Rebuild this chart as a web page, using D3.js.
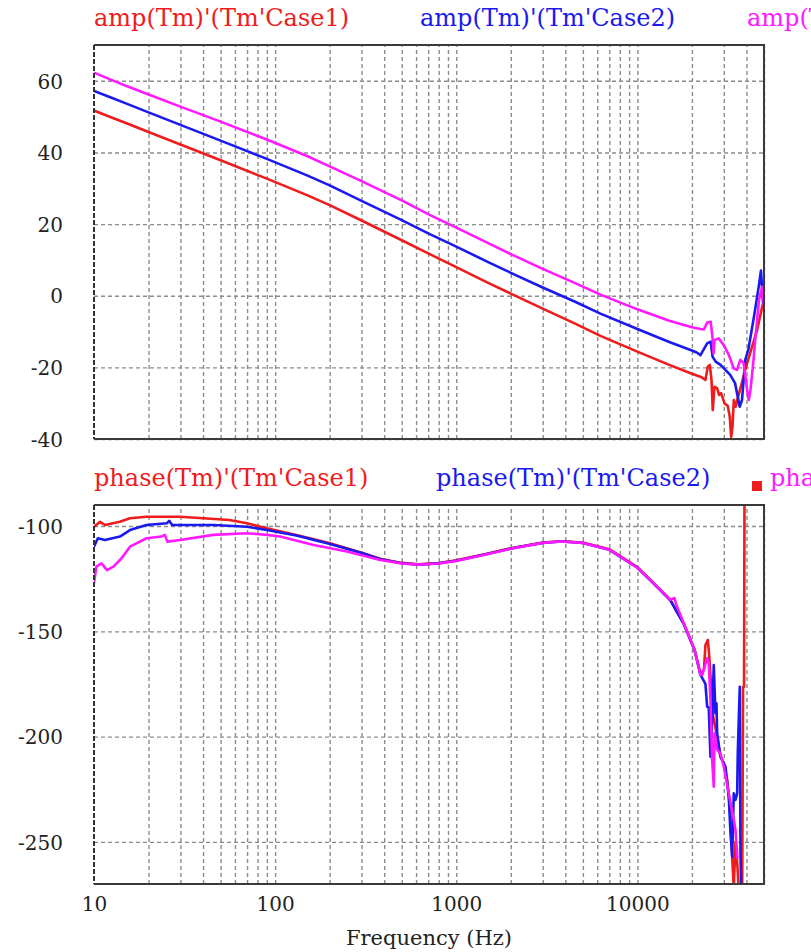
<!DOCTYPE html>
<html>
<head>
<meta charset="utf-8">
<script src="https://cdn.jsdelivr.net/npm/d3@7"></script>
<style>
  body { margin: 0; background: #fff; }
  svg { display: block; font-family: "DejaVu Serif", serif; }
  .grid line { stroke: #8c8c8c; stroke-width: 1.4; stroke-dasharray: 4,3; }
  .grid path { display: none; }
  .lbl { font-family: "DejaVu Serif", serif; }
  .lbl text { fill: #222; font-size: 20px; }
  .lbl path, .lbl line { display: none; }
</style>
</head>
<body>
<script>
  // ---- data: [frequency Hz, value] ----
  const seriesNames = ['Tm\'Case1', 'Tm\'Case2', 'Tm\'Case3']
  const colors = ['#ee1c1c', '#1a1aee', '#ff19ff']

  const ampCase1 = [[10,51.7],[12,50.1],[15,48.2],[20,45.7],[30,42.2],[50,37.8],[90,32.7],[150,28.1],[200,25.3],[300,21.0],[500,15.5],[700,11.8],[1000,8.0],[1500,3.6],[2000,0.6],[3000,-3.6],[4500,-7.7],[6250,-11.2],[10000,-15.6],[15000,-19.3],[20000,-21.8],[22290,-22.6],[23750,-23.5],[24470,-19.8],[25100,-19.3],[25650,-23.5],[26070,-31.9],[26640,-25.4],[27540,-25.8],[28250,-27.7],[28970,-27.2],[30250,-30.0],[31540,-30.8],[32360,-33.8],[32940,-39.4],[33500,-36.6],[34050,-29.1],[34920,-31.0],[35820,-28.6],[40360,-18.8],[45800,-9.6],[48900,-3.0],[50000,-1.2]]
  const ampCase2 = [[10,57.2],[12,55.6],[15,53.7],[20,51.2],[30,47.7],[50,43.3],[90,38.2],[150,33.6],[200,30.8],[300,26.5],[500,21.1],[700,17.4],[1000,13.7],[1500,9.4],[2000,6.4],[3000,2.3],[4500,-1.6],[6250,-5.0],[10000,-9.3],[15000,-12.9],[20000,-15.3],[21380,-15.9],[22290,-16.6],[24270,-13.3],[25400,-12.8],[26000,-17.0],[27050,-18.4],[28750,-19.3],[30600,-20.7],[32540,-22.1],[34600,-24.4],[35800,-28.2],[36700,-31.0],[37800,-29.1],[38600,-23.5],[39400,-17.9],[41000,-15.0],[44300,-5.0],[46900,3.0],[48100,7.0],[49400,-2.0],[50000,2.0]]
  const ampCase3 = [[10,62.3],[12,60.6],[15,58.6],[20,56.2],[30,52.8],[50,48.6],[90,43.6],[150,39.0],[200,36.1],[300,32.0],[500,26.6],[700,22.8],[1000,19.0],[1500,14.7],[2000,11.6],[3000,7.5],[4500,3.6],[6250,0.3],[10000,-3.8],[15000,-7.0],[20000,-8.8],[22290,-9.3],[23300,-9.4],[24270,-7.5],[25400,-7.3],[26000,-11.9],[26330,-16.1],[26640,-12.4],[28100,-11.9],[29990,-13.8],[31960,-16.5],[34050,-20.3],[35500,-20.7],[37000,-17.9],[38600,-18.8],[40360,-26.3],[41200,-29.1],[42100,-26.3],[43600,-18.8],[44900,-11.4],[46900,-1.2],[48900,2.5],[50000,-3.0]]

  const phaseCase1 = [[10,-100.3],[10.8,-98],[11.5,-99.5],[13.9,-98],[15.8,-96.3],[19.5,-95.6],[29.9,-95.6],[40,-96.3],[56,-97.1],[70,-98.7],[90,-101.1],[131,-104.2],[201,-108.2],[307,-112.9],[380,-115.5],[500,-117.5],[620,-118.2],[800,-117.6],[1000,-116.3],[1500,-113],[2000,-110.5],[3000,-107.8],[3800,-107.2],[5000,-107.8],[7000,-111],[10000,-119.5],[11800,-125.6],[15200,-135.1],[18000,-146.2],[20700,-158.9],[22300,-170],[23300,-168.3],[23750,-156.5],[24470,-154.1],[24900,-161.2],[26150,-190],[27540,-200],[28750,-209.5],[29990,-212.7],[31310,-220.6],[32650,-236.4],[33370,-257],[34040,-272],[34790,-250],[35700,-262],[36200,-272],[37900,-272],[38320,-176.3],[38800,-176.3],[39020,-85]]
  const phaseCase2 = [[10,-109.8],[10.5,-105.8],[11.5,-106.6],[13.9,-105],[15.8,-101.9],[19.5,-99.5],[25.2,-98.7],[26,-97.5],[27,-99.5],[45.5,-99.5],[70,-100.3],[90,-101.9],[131,-104.5],[201,-108.5],[307,-113],[380,-115.8],[500,-117.7],[620,-118.3],[800,-117.7],[1000,-116.5],[1500,-113.2],[2000,-110.7],[3000,-108],[3800,-107.3],[5000,-108],[7000,-111.3],[10000,-119.8],[11800,-125.8],[15200,-135.3],[18000,-146.4],[20700,-159],[22300,-170.7],[23750,-175],[24270,-185.8],[24770,-186],[25320,-209.5],[25860,-192.1],[26400,-166],[26970,-188.9],[27330,-184.2],[27560,-198.4],[28750,-209.5],[30640,-214.3],[31950,-228.5],[32650,-245.9],[33370,-257],[34040,-226.9],[34790,-230.1],[35550,-226.9],[35820,-207.9],[36750,-176.3],[37080,-255.4],[37410,-272]]
  const phaseCase3 = [[10,-127.2],[10.3,-119.3],[11,-117.7],[11.8,-120.9],[12.8,-119.3],[14.2,-115.3],[15.8,-109.8],[19.5,-105.8],[23.6,-105],[24.6,-104.2],[25.4,-107.4],[29.9,-106.6],[45.5,-104.2],[70,-103.4],[90,-104.2],[106.6,-105],[163,-109],[249,-112.1],[380,-116.1],[500,-117.8],[620,-118.3],[800,-117.8],[1000,-116.6],[1500,-113.3],[2000,-110.8],[3000,-108],[3800,-107.3],[5000,-108],[7000,-111.2],[10000,-119.8],[11800,-125.6],[15200,-135],[16000,-134.2],[16500,-138],[18000,-146],[20700,-158.9],[22300,-170.7],[22800,-170.7],[24270,-162.8],[24770,-165],[25320,-182.6],[25860,-211.1],[26400,-223.8],[26640,-198.4],[27560,-206.3],[28750,-208],[29990,-214.3],[31950,-226.9],[34040,-239.6],[34790,-244.3],[35700,-258]]

  const ampTicks = [60, 40, 20, 0, -20, -40]
  const phaseTicks = [-100, -150, -200, -250]
  const freqTicks = [10, 100, 1000, 10000]

  // ---- layout ----
  const W = 811, H = 952
  const left = 94, right = 764
  const svg = d3.select('body').append('svg').attr('width', W).attr('height', H)

  const x = d3.scaleLog().domain([10, 50000]).range([left, right])
  const minorTicks = []
  ;[10, 100, 1000, 10000].forEach(d => { for (let k = 1; k < 10; k++) if (d * k <= 50000 && d * k > 10) minorTicks.push(d * k) })

  function panel (cfg) {
    let y = d3.scaleLinear().domain(cfg.domain).range([cfg.bottom, cfg.top])
    let h = cfg.bottom - cfg.top
    let g = svg.append('g')

    // grid
    g.append('g').attr('class', 'grid')
      .attr('transform', `translate(0,${cfg.bottom})`)
      .call(d3.axisBottom(x).tickValues(minorTicks).tickSize(-h).tickFormat(''))
    g.append('g').attr('class', 'grid')
      .attr('transform', `translate(${left},0)`)
      .call(d3.axisLeft(y).tickValues(cfg.ticks).tickSize(-(right - left)).tickFormat(''))

    // y labels
    g.append('g').attr('class', 'lbl')
      .attr('transform', `translate(${left - 31},0)`)
      .call(d3.axisLeft(y).tickValues(cfg.ticks).tickSize(0).tickPadding(0).tickFormat(d => String(d)))
      .selectAll('text').attr('dy', '0.36em')

    // curves
    let clipId = 'clip' + cfg.id
    svg.append('clipPath').attr('id', clipId).append('rect')
      .attr('x', left).attr('y', cfg.top).attr('width', right - left).attr('height', h)
    let line = d3.line().x(d => x(d[0])).y(d => y(d[1]))
    g.append('g').attr('clip-path', `url(#${clipId})`)
      .selectAll('path').data(cfg.series).enter()
      .append('path')
      .attr('d', d => line(d))
      .attr('fill', 'none')
      .attr('stroke', (d, i) => colors[i])
      .attr('stroke-width', 2.6)
      .attr('stroke-linejoin', 'round')

    // frame
    g.append('path')
      .attr('d', `M${left},${cfg.top}H${right}V${cfg.bottom}H${left}`)
      .attr('fill', 'none').attr('stroke', '#3a3a3a').attr('stroke-width', 2)
    g.append('line')
      .attr('x1', left).attr('x2', left).attr('y1', cfg.top).attr('y2', cfg.bottom)
      .attr('stroke', '#333').attr('stroke-width', 2).attr('stroke-dasharray', '5,2')

    // titles
    cfg.titles.forEach((t, i) => {
      svg.append('text')
        .attr('x', t[0]).attr('y', cfg.titleY)
        .attr('fill', colors[i]).style('font-size', '24px')
        .text(t[1])
    })
    return y
  }

  panel({
    id: 'amp', top: 45, bottom: 439, domain: [-40, 70], ticks: ampTicks,
    series: [ampCase1, ampCase2, ampCase3], titleY: 26,
    titles: [[94, 'amp(Tm)\'(' + seriesNames[0] + ')'], [420, 'amp(Tm)\'(' + seriesNames[1] + ')'], [747, 'amp(Tm)\'(' + seriesNames[2] + ')']]
  })
  panel({
    id: 'ph', top: 505, bottom: 884, domain: [-270, -90], ticks: phaseTicks,
    series: [phaseCase1, phaseCase2, phaseCase3], titleY: 486,
    titles: [[94, 'phase(Tm)\'(' + seriesNames[0] + ')'], [436, 'phase(Tm)\'(' + seriesNames[1] + ')'], [770, 'phase(Tm)\'(' + seriesNames[2] + ')']]
  })
  // small marker in front of the clipped third phase title
  svg.append('rect').attr('x', 752).attr('y', 481).attr('width', 10).attr('height', 10).attr('fill', colors[0])

  // x labels
  svg.append('g').attr('class', 'lbl')
    .attr('transform', `translate(0,${897})`)
    .call(d3.axisBottom(x).tickValues(freqTicks).tickSize(0).tickPadding(0).tickFormat(d3.format('d')))
    .selectAll('text').attr('dy', '0.71em')
  svg.append('text')
    .attr('x', (left + right) / 2).attr('y', 945)
    .attr('text-anchor', 'middle').attr('fill', '#222').style('font-size', '21px')
    .text('Frequency (Hz)')
</script>
</body>
</html>
